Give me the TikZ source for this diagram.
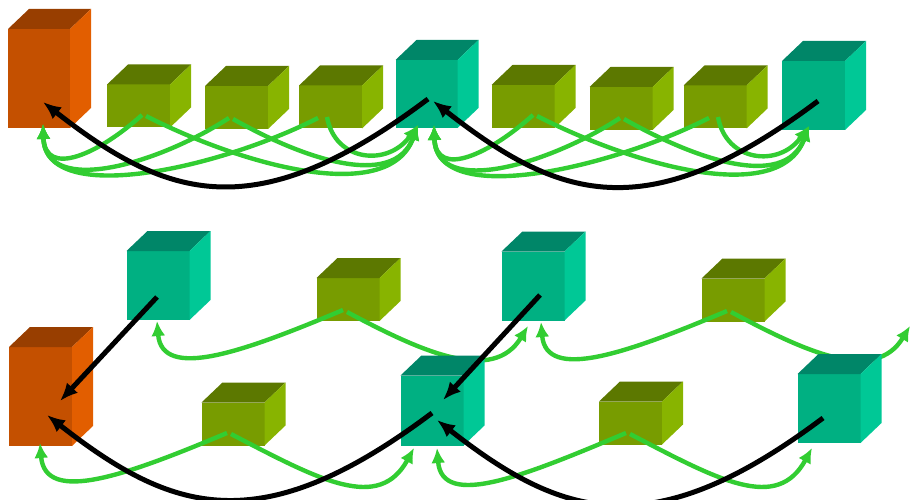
\documentclass[tikz,border=0pt]{standalone}
\usetikzlibrary{arrows.meta}
\definecolor{orangeFace}{RGB}{196,80,0}
\definecolor{orangeCote}{RGB}{226,94,0}
\definecolor{orangeDessus}{RGB}{152,62,0}
\definecolor{oliveFace}{RGB}{120,156,0}
\definecolor{oliveCote}{RGB}{136,180,0}
\definecolor{oliveDessus}{RGB}{92,120,0}
\definecolor{turqFace}{RGB}{0,176,130}
\definecolor{turqCote}{RGB}{0,200,150}
\definecolor{turqDessus}{RGB}{0,134,104}
\definecolor{vert}{RGB}{50,205,50}
\begin{document}
\begin{tikzpicture}[x=1pt,y=-1pt]
		\tikzstyle{bloc}=[rectangle,inner sep=0pt,outer sep=0pt]
		\tikzstyle{fleche}=[->,>={Latex[length=18pt,width=15pt]},line width=5pt,black]
		\tikzstyle{flecheverte}=[->,>={Latex[length=15pt,width=14pt]},line width=4.4pt,vert]
		
		\def\Cube#1#2#3#4#5#6{
			\node[bloc,fill=#6Face,minimum width=#4,minimum height=#5] (#1) at (#2,#3) {};
			\fill[#6Dessus] (#1.north west) -- ++(21,-20) -- ++(#4,0) -- (#1.north east) -- cycle;
			\fill[#6Cote] (#1.north east) -- ++(21,-20) -- ++(0,#5) -- (#1.south east) -- cycle;
		}
		
		\useasboundingbox (0,0) rectangle (910,500);
		
		\Cube{A}{39}{78.5}{62}{99}{orange}
		\Cube{Aa}{138.5}{106}{63}{43}{olive}
		\Cube{Ab}{236.5}{107.5}{63}{43}{olive}
		\Cube{Ac}{330.5}{107}{63}{43}{olive}
		\Cube{Ba}{523}{106.5}{63}{43}{olive}
		\Cube{Bb}{621}{108.5}{63}{43}{olive}
		\Cube{Bc}{715}{107}{63}{43}{olive}
		\Cube{D}{40.5}{396.5}{63}{99}{orange}
		\Cube{Ea}{348}{299.5}{63}{43}{olive}
		\Cube{Da}{233}{424}{63}{43}{olive}
		\Cube{Ga}{733}{300}{63}{43}{olive}
		\Cube{Fa}{630.5}{423}{63}{43}{olive}
		
		\coordinate (Eag) at (343,310);
		\coordinate (Ead) at (347,312);
		\coordinate (Gag) at (727,311);
		\coordinate (Gad) at (731,312);
		\coordinate (Gx) at (910,326);
		\coordinate (Gg) at (528,326);
		
		\draw[flecheverte] (Ead) .. controls +(75,40) and +(-35,58) .. (Gg);
		\draw[flecheverte] (Gad) .. controls +(75,40) and +(-35,58) .. (Gx);
		
		\Cube{B}{426.5}{94}{62}{68}{turq}
		\Cube{C}{813.5}{95.5}{63}{69}{turq}
		\Cube{E}{158}{285.5}{63}{69}{turq}
		\Cube{F}{432}{410.5}{63}{70}{turq}
		\Cube{G}{533}{286}{63}{69}{turq}
		\Cube{H}{829}{408.5}{63}{69}{turq}
		
		\coordinate (Aag) at (142,115);
		\coordinate (Aad) at (146,116);
		\coordinate (Abg) at (229,118);
		\coordinate (Abd) at (233,119);
		\coordinate (Acg) at (318,118);
		\coordinate (Acd) at (327,117);
		\coordinate (Bag) at (533,115);
		\coordinate (Bad) at (537,116);
		\coordinate (Bbg) at (620,118);
		\coordinate (Bbd) at (624,119);
		\coordinate (Bcg) at (709,118);
		\coordinate (Bcd) at (718,117);
		\coordinate (Ab1) at (43,124);
		\coordinate (Bb1) at (418,125);
		\coordinate (Bb2) at (434,125);
		\coordinate (Cb1) at (809,126);
		\coordinate (Ah) at (43,102);
		\coordinate (Bh) at (433,101);
		\coordinate (Bc) at (428,99);
		\coordinate (Cc) at (818,101);
		
		\draw[flecheverte] (Aag) .. controls +(-42,38) and +(2,55) .. (Ab1);
		\draw[flecheverte] (Abg) .. controls +(-69,45) and +(2,74) .. (Ab1);
		\draw[flecheverte] (Acg) .. controls +(-98,50) and +(2,84) .. (Ab1);
		\draw[flecheverte] (Aad) .. controls +(94,48) and +(-30,82) .. (Bb1);
		\draw[flecheverte] (Abd) .. controls +(67,38) and +(-25,66) .. (Bb1);
		\draw[flecheverte] (Acd) .. controls +(8,45) and +(-30,42) .. (Bb1);
		\draw[flecheverte] (Bag) .. controls +(-42,38) and +(2,55) .. (Bb2);
		\draw[flecheverte] (Bbg) .. controls +(-69,45) and +(2,74) .. (Bb2);
		\draw[flecheverte] (Bcg) .. controls +(-98,50) and +(2,84) .. (Bb2);
		\draw[flecheverte] (Bad) .. controls +(94,48) and +(-30,82) .. (Cb1);
		\draw[flecheverte] (Bbd) .. controls +(67,38) and +(-25,66) .. (Cb1);
		\draw[flecheverte] (Bcd) .. controls +(8,45) and +(-30,42) .. (Cb1);
		
		\draw[fleche] (Bc) .. controls +(-173,130) and +(124,97) .. (Ah);
		\draw[fleche] (Cc) .. controls +(-173,130) and +(124,97) .. (Bh);
		
		\coordinate (Dag) at (227,433);
		\coordinate (Dad) at (231,434);
		\coordinate (Fag) at (626,433);
		\coordinate (Fad) at (630,434);
		\coordinate (Eb) at (157,321);
		\coordinate (Gb) at (541,322);
		\coordinate (Db) at (40,443);
		\coordinate (Fb1) at (414,448);
		\coordinate (Fb2) at (437,448);
		\coordinate (Hb) at (812,448);
		\coordinate (Ec) at (157,297);
		\coordinate (Gc) at (540,295);
		\coordinate (Fc) at (432,413);
		\coordinate (Hc) at (823,418);
		\coordinate (Dh1) at (60,401);
		\coordinate (Dh2) at (47,415);
		\coordinate (Fh1) at (443,400);
		\coordinate (Fh2) at (437,420);
		
		\draw[flecheverte] (Eag) .. controls +(-100,42) and +(5,60) .. (Eb);
		\draw[flecheverte] (Gag) .. controls +(-100,42) and +(5,60) .. (Gb);
		\draw[flecheverte] (Dag) .. controls +(-100,42) and +(5,62) .. (Db);
		\draw[flecheverte] (Dad) .. controls +(90,47) and +(-35,64) .. (Fb1);
		\draw[flecheverte] (Fag) .. controls +(-100,42) and +(5,62) .. (Fb2);
		\draw[flecheverte] (Fad) .. controls +(90,47) and +(-35,64) .. (Hb);
		
		\draw[fleche] (Ec) -- (Dh1);
		\draw[fleche] (Gc) -- (Fh1);
		\draw[fleche] (Fc) .. controls +(-173,130) and +(124,97) .. (Dh2);
		\draw[fleche] (Hc) .. controls +(-173,130) and +(124,97) .. (Fh2);
	\end{tikzpicture}
\end{document}
